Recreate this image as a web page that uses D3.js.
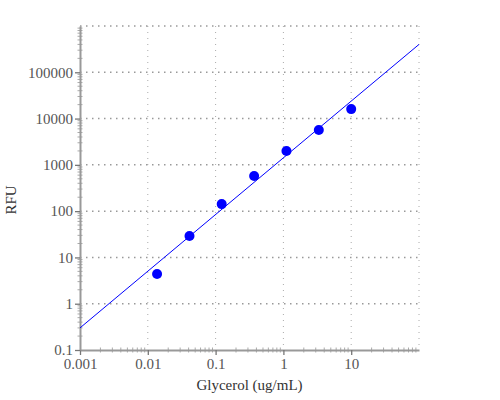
<!DOCTYPE html>
<meta charset="utf-8">
<style>
body { margin: 0; background: #fff; }
text { font-family: "Liberation Serif", "Times New Roman", serif; }
</style>
<svg width="500" height="400"></svg>
<script src="https://d3js.org/d3.v7.min.js"></script>
<script>
// glycerol standard curve
var conc = [0.0137, 0.0412, 0.123, 0.37, 1.11, 3.33, 10];
var rfu = [4.4, 29, 142, 573, 1990, 5650, 16000];
// fitted line end points
var fitX = [0.001, 100];
var fitY = [0.3, 400000];

var xTicks = [0.001, 0.01, 0.1, 1, 10];
var yTicks = [0.1, 1, 10, 100, 1000, 10000, 100000];
var xGrid = [0.01, 0.1, 1, 10, 100];
var yGrid = [1, 10, 100, 1000, 10000, 100000, 1000000];

var padL = 80, padR = 419, padT = 26, padB = 350;

var svg = d3.select('svg')

var x = d3.scaleLog().domain([0.001, 100]).range([padL, padR])
var y = d3.scaleLog().domain([0.1, 1000000]).range([padB, padT])

// grid
svg.append("g").selectAll("line")
  .data(xGrid).enter().append("line")
    .attr("x1", function (d) { return x(d) }).attr("x2", function (d) { return x(d) })
    .attr("y1", padT).attr("y2", padB)
    .attr("stroke", "#aaa").attr("stroke-width", 1)
    .attr("stroke-dasharray", "1,5")

svg.append("g").selectAll("line")
  .data(yGrid).enter().append("line")
    .attr("y1", function (d) { return y(d) }).attr("y2", function (d) { return y(d) })
    .attr("x1", padL).attr("x2", padR)
    .attr("stroke", "#999").attr("stroke-width", 1.5)
    .attr("stroke-dasharray", "1.5,4.5")

// minor ticks (2..9 each decade)
function minors(lo, hi) {
  var out = [];
  for (var e = Math.round(Math.log10(lo)); e < Math.round(Math.log10(hi)); e++) {
    for (var k = 2; k < 10; k++) out.push(k * Math.pow(10, e));
  }
  return out;
}

svg.append("g").selectAll("line")
  .data(minors(0.001, 100)).enter().append("line")
    .attr("x1", function (d) { return x(d) }).attr("x2", function (d) { return x(d) })
    .attr("y1", padB - 2.5).attr("y2", padB + 2.5)
    .attr("stroke", "#aaa").attr("stroke-width", 1)

svg.append("g").selectAll("line")
  .data(minors(0.1, 1000000)).enter().append("line")
    .attr("y1", function (d) { return y(d) }).attr("y2", function (d) { return y(d) })
    .attr("x1", padL - 2.5).attr("x2", padL + 2.5)
    .attr("stroke", "#aaa").attr("stroke-width", 1)

// axes
var xAxis = svg.append("g").attr("transform", "translate(0," + padB + ")")
  .call(d3.axisBottom(x).tickValues(xTicks).tickFormat(function (d) { return String(d) })
    .tickSizeInner(5).tickSizeOuter(0).tickPadding(3))
var yAxis = svg.append("g").attr("transform", "translate(" + padL + ",0)")
  .call(d3.axisLeft(y).tickValues(yTicks).tickFormat(function (d) { return String(d) })
    .tickSizeInner(5).tickSizeOuter(0).tickPadding(2))

;[xAxis, yAxis].forEach(function (a) {
  a.select(".domain").attr("stroke", "#999").attr("stroke-width", 2)
  a.selectAll(".tick line").attr("stroke", "#777").attr("stroke-width", 1.3)
  a.selectAll(".tick text").attr("fill", "#555").attr("font-size", 15)
    .style("font-family", '"Liberation Serif", serif')
})

// fit line
svg.append("line")
  .attr("x1", x(fitX[0])).attr("y1", y(fitY[0]))
  .attr("x2", x(fitX[1])).attr("y2", y(fitY[1]))
  .attr("stroke", "#0000ff").attr("stroke-width", 1)

// points
svg.append("g").selectAll("circle")
  .data(conc).enter().append("circle")
    .attr("cx", function (d) { return x(d) })
    .attr("cy", function (d, i) { return y(rfu[i]) })
    .attr("r", 5)
    .attr("fill", "#0000ff")

// titles
svg.append("text")
  .attr("x", (padL + padR) / 2).attr("y", 390)
  .attr("text-anchor", "middle").attr("font-size", 15).attr("fill", "#333")
  .text("Glycerol (ug/mL)")

svg.append("text")
  .attr("transform", "translate(16," + ((padT + padB) / 2 + 12) + ") rotate(-90)")
  .attr("text-anchor", "middle").attr("font-size", 15).attr("fill", "#333")
  .text("RFU")
</script>
